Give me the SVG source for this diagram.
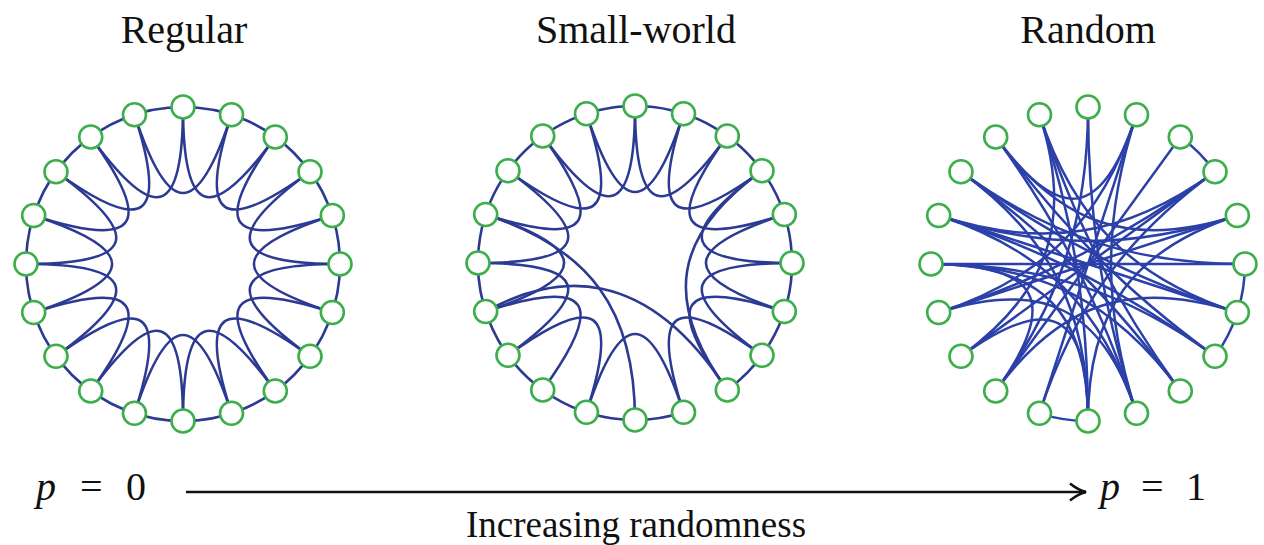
<svg xmlns="http://www.w3.org/2000/svg" width="1264" height="545" viewBox="0 0 1264 545">
<defs>
<style>
.title{font-family:"Liberation Serif","DejaVu Serif",serif;font-size:40px;fill:#111;text-anchor:middle}
.lbl{font-family:"Liberation Serif","DejaVu Serif",serif;font-size:40px;fill:#111}
.cap{font-family:"Liberation Serif","DejaVu Serif",serif;font-size:37px;fill:#111;text-anchor:middle}
.edges path,.edges circle{fill:none;stroke:#2c3a92;stroke-width:2.6}
.redges path{fill:none;stroke:#2b40a8;stroke-width:2.5}
.node circle{fill:#fff;stroke:#3cae4a;stroke-width:2.6}
</style>
<marker id="arrow" markerWidth="22" markerHeight="22" refX="19" refY="11" orient="auto" markerUnits="userSpaceOnUse">
<path d="M3,2.5 Q11,9 19,11 Q11,13 3,19.5" fill="none" stroke="#111" stroke-width="2.6"/>
</marker>
</defs>
<rect width="1264" height="545" fill="#fff"/>

<text class="title" x="184" y="43">Regular</text>
<text class="title" x="636" y="43">Small-world</text>
<text class="title" x="1088" y="43">Random</text>

<!-- Regular -->
<g id="regular" transform="translate(183,264)">
<g id="regular-edges" class="edges">
<circle cx="0" cy="0" r="157"/>
<path d="M0,-157 C0,-47.1 27.68,-38.11 92.28,-127.02"/>
<path d="M48.52,-149.32 C14.56,-44.8 38.11,-27.68 127.02,-92.28"/>
<path d="M92.28,-127.02 C27.68,-38.11 44.8,-14.56 149.32,-48.52"/>
<path d="M127.02,-92.28 C38.11,-27.68 47.1,0 157,0"/>
<path d="M149.32,-48.52 C44.8,-14.56 44.8,14.56 149.32,48.52"/>
<path d="M157,0 C47.1,0 38.11,27.68 127.02,92.28"/>
<path d="M149.32,48.52 C44.8,14.56 27.68,38.11 92.28,127.02"/>
<path d="M127.02,92.28 C38.11,27.68 14.56,44.8 48.52,149.32"/>
<path d="M92.28,127.02 C27.68,38.11 0,47.1 0,157"/>
<path d="M48.52,149.32 C14.56,44.8 -14.56,44.8 -48.52,149.32"/>
<path d="M0,157 C0,47.1 -27.68,38.11 -92.28,127.02"/>
<path d="M-48.52,149.32 C-14.56,44.8 -38.11,27.68 -127.02,92.28"/>
<path d="M-92.28,127.02 C-27.68,38.11 -44.8,14.56 -149.32,48.52"/>
<path d="M-127.02,92.28 C-38.11,27.68 -47.1,0 -157,0"/>
<path d="M-149.32,48.52 C-44.8,14.56 -44.8,-14.56 -149.32,-48.52"/>
<path d="M-157,0 C-47.1,0 -38.11,-27.68 -127.02,-92.28"/>
<path d="M-149.32,-48.52 C-44.8,-14.56 -27.68,-38.11 -92.28,-127.02"/>
<path d="M-127.02,-92.28 C-38.11,-27.68 -14.56,-44.8 -48.52,-149.32"/>
<path d="M-92.28,-127.02 C-27.68,-38.11 0,-47.1 0,-157"/>
<path d="M-48.52,-149.32 C-14.56,-44.8 14.56,-44.8 48.52,-149.32"/>
</g>
<g id="reg-n0" class="node"><circle cx="0" cy="-157" r="11.5"/></g>
<g id="reg-n1" class="node"><circle cx="48.52" cy="-149.32" r="11.5"/></g>
<g id="reg-n2" class="node"><circle cx="92.28" cy="-127.02" r="11.5"/></g>
<g id="reg-n3" class="node"><circle cx="127.02" cy="-92.28" r="11.5"/></g>
<g id="reg-n4" class="node"><circle cx="149.32" cy="-48.52" r="11.5"/></g>
<g id="reg-n5" class="node"><circle cx="157" cy="0" r="11.5"/></g>
<g id="reg-n6" class="node"><circle cx="149.32" cy="48.52" r="11.5"/></g>
<g id="reg-n7" class="node"><circle cx="127.02" cy="92.28" r="11.5"/></g>
<g id="reg-n8" class="node"><circle cx="92.28" cy="127.02" r="11.5"/></g>
<g id="reg-n9" class="node"><circle cx="48.52" cy="149.32" r="11.5"/></g>
<g id="reg-n10" class="node"><circle cx="0" cy="157" r="11.5"/></g>
<g id="reg-n11" class="node"><circle cx="-48.52" cy="149.32" r="11.5"/></g>
<g id="reg-n12" class="node"><circle cx="-92.28" cy="127.02" r="11.5"/></g>
<g id="reg-n13" class="node"><circle cx="-127.02" cy="92.28" r="11.5"/></g>
<g id="reg-n14" class="node"><circle cx="-149.32" cy="48.52" r="11.5"/></g>
<g id="reg-n15" class="node"><circle cx="-157" cy="0" r="11.5"/></g>
<g id="reg-n16" class="node"><circle cx="-149.32" cy="-48.52" r="11.5"/></g>
<g id="reg-n17" class="node"><circle cx="-127.02" cy="-92.28" r="11.5"/></g>
<g id="reg-n18" class="node"><circle cx="-92.28" cy="-127.02" r="11.5"/></g>
<g id="reg-n19" class="node"><circle cx="-48.52" cy="-149.32" r="11.5"/></g>
</g>

<!-- Small-world -->
<g id="smallworld" transform="translate(635,263)">
<g id="smallworld-edges" class="edges">
<path d="M48.52,149.32 A157,157 0 1 1 92.28,127.02"/>
<path d="M0,-157 C0,-47.1 27.68,-38.11 92.28,-127.02"/>
<path d="M48.52,-149.32 C14.56,-44.8 38.11,-27.68 127.02,-92.28"/>
<path d="M92.28,-127.02 C27.68,-38.11 44.8,-14.56 149.32,-48.52"/>
<path d="M127.02,-92.28 C38.11,-27.68 47.1,0 157,0"/>
<path d="M149.32,-48.52 C44.8,-14.56 44.8,14.56 149.32,48.52"/>
<path d="M157,0 C47.1,0 38.11,27.68 127.02,92.28"/>
<path d="M149.32,48.52 C44.8,14.56 27.68,38.11 92.28,127.02"/>
<path d="M127.02,92.28 C38.11,27.68 14.56,44.8 48.52,149.32"/>
<path d="M48.52,149.32 C14.56,44.8 -14.56,44.8 -48.52,149.32"/>
<path d="M-48.52,149.32 C-14.56,44.8 -38.11,27.68 -127.02,92.28"/>
<path d="M-92.28,127.02 C-27.68,38.11 -44.8,14.56 -149.32,48.52"/>
<path d="M-127.02,92.28 C-38.11,27.68 -47.1,0 -157,0"/>
<path d="M-149.32,48.52 C-44.8,14.56 -44.8,-14.56 -149.32,-48.52"/>
<path d="M-157,0 C-47.1,0 -38.11,-27.68 -127.02,-92.28"/>
<path d="M-149.32,-48.52 C-44.8,-14.56 -27.68,-38.11 -92.28,-127.02"/>
<path d="M-127.02,-92.28 C-38.11,-27.68 -14.56,-44.8 -48.52,-149.32"/>
<path d="M-92.28,-127.02 C-27.68,-38.11 0,-47.1 0,-157"/>
<path d="M-48.52,-149.32 C-14.56,-44.8 14.56,-44.8 48.52,-149.32"/>
<path d="M-149.32,48.52 C-80,10 10,0 92.28,127.02"/>
<path d="M-149.32,-48.52 C-44.8,-14.56 0,47.1 0,157"/>
<path d="M127.02,-92.28 C38.11,-27.68 27.68,38.11 92.28,127.02"/>
</g>
<g id="sw-n0" class="node"><circle cx="0" cy="-157" r="11.5"/></g>
<g id="sw-n1" class="node"><circle cx="48.52" cy="-149.32" r="11.5"/></g>
<g id="sw-n2" class="node"><circle cx="92.28" cy="-127.02" r="11.5"/></g>
<g id="sw-n3" class="node"><circle cx="127.02" cy="-92.28" r="11.5"/></g>
<g id="sw-n4" class="node"><circle cx="149.32" cy="-48.52" r="11.5"/></g>
<g id="sw-n5" class="node"><circle cx="157" cy="0" r="11.5"/></g>
<g id="sw-n6" class="node"><circle cx="149.32" cy="48.52" r="11.5"/></g>
<g id="sw-n7" class="node"><circle cx="127.02" cy="92.28" r="11.5"/></g>
<g id="sw-n8" class="node"><circle cx="92.28" cy="127.02" r="11.5"/></g>
<g id="sw-n9" class="node"><circle cx="48.52" cy="149.32" r="11.5"/></g>
<g id="sw-n10" class="node"><circle cx="0" cy="157" r="11.5"/></g>
<g id="sw-n11" class="node"><circle cx="-48.52" cy="149.32" r="11.5"/></g>
<g id="sw-n12" class="node"><circle cx="-92.28" cy="127.02" r="11.5"/></g>
<g id="sw-n13" class="node"><circle cx="-127.02" cy="92.28" r="11.5"/></g>
<g id="sw-n14" class="node"><circle cx="-149.32" cy="48.52" r="11.5"/></g>
<g id="sw-n15" class="node"><circle cx="-157" cy="0" r="11.5"/></g>
<g id="sw-n16" class="node"><circle cx="-149.32" cy="-48.52" r="11.5"/></g>
<g id="sw-n17" class="node"><circle cx="-127.02" cy="-92.28" r="11.5"/></g>
<g id="sw-n18" class="node"><circle cx="-92.28" cy="-127.02" r="11.5"/></g>
<g id="sw-n19" class="node"><circle cx="-48.52" cy="-149.32" r="11.5"/></g>
</g>

<!-- Random -->
<g id="random" transform="translate(1088,264)">
<g id="random-edges" class="redges">
<path d="M92.28,-127.02 A157,157 0 0 1 127.02,-92.28"/>
<path d="M157,0 A157,157 0 0 1 149.32,48.52"/>
<path d="M149.32,48.52 A157,157 0 0 1 127.02,92.28"/>
<path d="M0,157 A157,157 0 0 1 -48.52,149.32"/>
<path d="M-92.28,-127.02 C-27.68,-38.11 14.56,-44.8 48.52,-149.32"/>
<path d="M0,-157 C0,-47.1 14.56,44.8 48.52,149.32"/>
<path d="M0,-157 C0,-47.1 -27.68,38.11 -92.28,127.02"/>
<path d="M48.52,-149.32 C14.56,-44.8 -14.56,44.8 -48.52,149.32"/>
<path d="M48.52,-149.32 C14.56,-44.8 -44.8,14.56 -149.32,48.52"/>
<path d="M48.52,-149.32 C14.56,-44.8 14.56,44.8 48.52,149.32"/>
<path d="M-48.52,-149.32 C-14.56,-44.8 27.68,38.11 92.28,127.02"/>
<path d="M-48.52,-149.32 C-14.56,-44.8 44.8,14.56 149.32,48.52"/>
<path d="M-92.28,-127.02 C-27.68,-38.11 38.11,27.68 127.02,92.28"/>
<path d="M-92.28,-127.02 C-27.68,-38.11 44.8,-14.56 149.32,-48.52"/>
<path d="M-127.02,-92.28 C-38.11,-27.68 47.1,0 157,0"/>
<path d="M-127.02,-92.28 C-38.11,-27.68 27.68,38.11 92.28,127.02"/>
<path d="M-127.02,-92.28 C-38.11,-27.68 0,47.1 0,157"/>
<path d="M-127.02,-92.28 C-38.11,-27.68 44.8,14.56 149.32,48.52"/>
<path d="M-149.32,-48.52 C-44.8,-14.56 44.8,-14.56 149.32,-48.52"/>
<path d="M-149.32,-48.52 C-44.8,-14.56 38.11,27.68 127.02,92.28"/>
<path d="M-149.32,-48.52 C-44.8,-14.56 44.8,14.56 149.32,48.52"/>
<path d="M-157,0 L157,0"/>
<path d="M-157,0 C-47.1,0 0,47.1 0,157"/>
<path d="M-149.32,48.52 C-44.8,14.56 38.11,-27.68 127.02,-92.28"/>
<path d="M-149.32,48.52 C-44.8,14.56 14.56,44.8 48.52,149.32"/>
<path d="M-149.32,48.52 C-44.8,14.56 44.8,-14.56 149.32,-48.52"/>
<path d="M-127.02,92.28 L127.02,-92.28"/>
<path d="M-127.02,92.28 C-38.11,27.68 0,47.1 0,157"/>
<path d="M-92.28,127.02 L92.28,-127.02"/>
<path d="M-92.28,127.02 C-27.68,38.11 44.8,14.56 149.32,48.52"/>
<path d="M-48.52,149.32 C-14.56,44.8 38.11,-27.68 127.02,-92.28"/>
<path d="M48.52,149.32 C14.56,44.8 -44.8,-14.56 -149.32,-48.52"/>
<path d="M48.52,149.32 C14.56,44.8 -27.68,-38.11 -92.28,-127.02"/>
<path d="M149.32,-48.52 C44.8,-14.56 0,47.1 0,157"/>
<path d="M127.02,-92.28 C38.11,-27.68 -44.8,-14.56 -149.32,-48.52"/>
<path d="M127.02,92.28 C38.11,27.68 -47.1,0 -157,0"/>
<path d="M92.28,127.02 C27.68,38.11 -47.1,0 -157,0"/>
<path d="M-127.02,92.28 C-38.11,27.68 -14.56,-44.8 -48.52,-149.32"/>
<path d="M-157,0 C-47.1,0 -27.68,38.11 -92.28,127.02"/>
<path d="M-48.52,-149.32 C-14.56,-44.8 0,47.1 0,157"/>
</g>
<g id="rnd-n0" class="node"><circle cx="0" cy="-157" r="11.5"/></g>
<g id="rnd-n1" class="node"><circle cx="48.52" cy="-149.32" r="11.5"/></g>
<g id="rnd-n2" class="node"><circle cx="92.28" cy="-127.02" r="11.5"/></g>
<g id="rnd-n3" class="node"><circle cx="127.02" cy="-92.28" r="11.5"/></g>
<g id="rnd-n4" class="node"><circle cx="149.32" cy="-48.52" r="11.5"/></g>
<g id="rnd-n5" class="node"><circle cx="157" cy="0" r="11.5"/></g>
<g id="rnd-n6" class="node"><circle cx="149.32" cy="48.52" r="11.5"/></g>
<g id="rnd-n7" class="node"><circle cx="127.02" cy="92.28" r="11.5"/></g>
<g id="rnd-n8" class="node"><circle cx="92.28" cy="127.02" r="11.5"/></g>
<g id="rnd-n9" class="node"><circle cx="48.52" cy="149.32" r="11.5"/></g>
<g id="rnd-n10" class="node"><circle cx="0" cy="157" r="11.5"/></g>
<g id="rnd-n11" class="node"><circle cx="-48.52" cy="149.32" r="11.5"/></g>
<g id="rnd-n12" class="node"><circle cx="-92.28" cy="127.02" r="11.5"/></g>
<g id="rnd-n13" class="node"><circle cx="-127.02" cy="92.28" r="11.5"/></g>
<g id="rnd-n14" class="node"><circle cx="-149.32" cy="48.52" r="11.5"/></g>
<g id="rnd-n15" class="node"><circle cx="-157" cy="0" r="11.5"/></g>
<g id="rnd-n16" class="node"><circle cx="-149.32" cy="-48.52" r="11.5"/></g>
<g id="rnd-n17" class="node"><circle cx="-127.02" cy="-92.28" r="11.5"/></g>
<g id="rnd-n18" class="node"><circle cx="-92.28" cy="-127.02" r="11.5"/></g>
<g id="rnd-n19" class="node"><circle cx="-48.52" cy="-149.32" r="11.5"/></g>
</g>

<!-- Axis -->
<g id="axis">
<line x1="186" y1="492" x2="1086" y2="492" stroke="#111" stroke-width="2.4" marker-end="url(#arrow)"/>
</g>
<text class="lbl" x="36" y="500"><tspan font-style="italic">p</tspan></text>
<text class="lbl" x="80" y="500">=</text>
<text class="lbl" x="126" y="500">0</text>
<text class="lbl" x="1100" y="500"><tspan font-style="italic">p</tspan></text>
<text class="lbl" x="1141" y="500">=</text>
<text class="lbl" x="1186" y="500">1</text>
<text class="cap" x="636" y="537">Increasing randomness</text>
</svg>
